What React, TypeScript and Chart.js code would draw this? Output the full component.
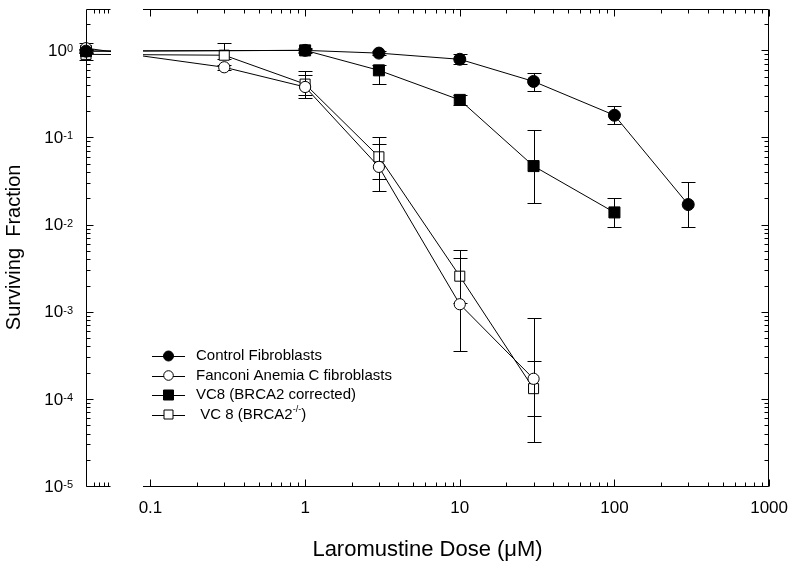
import { useEffect, useRef } from 'react';
import { Chart, registerables } from 'chart.js';

Chart.register(...registerables);

const FONT = "'Liberation Sans', Arial, Helvetica, sans-serif";

// ---- axis ranges (x axis has a break: untreated dose 0 is shown left of the break)
const X_MIN = 0.0383;
const X_MAX = 1000;
const BREAK_START = 0.055;
const BREAK_END = 0.09;
const Y_MIN = 1e-5;
const Y_MAX = 3;

// ---- tick labels
const xMajorTicks = [0.1, 1, 10, 100, 1000];
const xTickLabels = ['0.1', '1', '10', '100', '1000'];
const xMinorTicks = [
  0.2, 0.3, 0.4, 0.5, 0.6, 0.7, 0.8, 0.9,
  2, 3, 4, 5, 6, 7, 8, 9,
  20, 30, 40, 50, 60, 70, 80, 90,
  200, 300, 400, 500, 600, 700, 800, 900,
];
const xBreakPanelTicks = [0.0434, 0.0467, 0.0504, 0.0534];
const yMajorTicks = [1e-5, 1e-4, 1e-3, 1e-2, 1e-1, 1];
const yTickExponents = ['-5', '-4', '-3', '-2', '-1', '0'];
const yMinorMultipliers = [2, 3, 4, 5, 6, 7, 8, 9];

// ---- data (dose in µM; 0 = untreated)
const controlDoses = [0, 1, 3, 10, 30, 100, 300];
const controlSF = [0.98, 1.0, 0.93, 0.79, 0.44, 0.18, 0.017];
const controlLow = [0.93, 0.95, 0.88, 0.69, 0.34, 0.143, 0.0093];
const controlHigh = [1.03, 1.05, 0.98, 0.9, 0.55, 0.23, 0.031];

const fanconiDoses = [0, 0.3, 1, 3, 10, 30];
const fanconiSF = [1.06, 0.64, 0.38, 0.046, 0.00122, 0.00017];
const fanconiLow = [0.95, 0.6, 0.306, 0.024, 0.00035, 0.000063];
const fanconiHigh = [1.23, 0.68, 0.52, 0.0845, 0.0041, 0.00027];

const vc8CorrDoses = [0, 1, 3, 10, 30, 100];
const vc8CorrSF = [0.98, 1.0, 0.59, 0.27, 0.047, 0.0138];
const vc8CorrLow = [0.93, 0.94, 0.41, 0.235, 0.0178, 0.0093];
const vc8CorrHigh = [1.03, 1.06, 0.68, 0.306, 0.122, 0.0204];

const vc8KoDoses = [0, 0.3, 1, 3, 10, 30];
const vc8KoSF = [0.9, 0.88, 0.41, 0.06, 0.00256, 0.000131];
const vc8KoLow = [0.77, 0.8, 0.283, 0.0337, 0.00126, 0.0000317];
const vc8KoHigh = [1.0, 1.2, 0.575, 0.102, 0.0051, 0.00085];

type Series = {
  label: string;
  doses: number[];
  sf: number[];
  low: number[];
  high: number[];
  style: 'circle' | 'rect';
  filled: boolean;
  radius: number;
};

const SERIES: Series[] = [
  { label: 'Control Fibroblasts', doses: controlDoses, sf: controlSF, low: controlLow, high: controlHigh, style: 'circle', filled: true, radius: 6 },
  { label: 'Fanconi Anemia C fibroblasts', doses: fanconiDoses, sf: fanconiSF, low: fanconiLow, high: fanconiHigh, style: 'circle', filled: false, radius: 5.6 },
  { label: 'VC8 (BRCA2 corrected)', doses: vc8CorrDoses, sf: vc8CorrSF, low: vc8CorrLow, high: vc8CorrHigh, style: 'rect', filled: true, radius: 7.8 },
  { label: 'VC 8 (BRCA2', doses: vc8KoDoses, sf: vc8KoSF, low: vc8KoLow, high: vc8KoHigh, style: 'rect', filled: false, radius: 7.1 },
];

const doseToX = (d: number) => (d === 0 ? X_MIN : d);

const X_TICKS = [...xBreakPanelTicks, ...xMajorTicks, ...xMinorTicks].sort((a, b) => a - b);
const Y_TICKS: number[] = [...yMajorTicks];
yMajorTicks.slice(0, -1).forEach((dec) => yMinorMultipliers.forEach((m) => Y_TICKS.push(m * dec)));
Y_TICKS.push(2);
Y_TICKS.sort((a, b) => a - b);

const isDecade = (v: number) => Math.abs(Math.log10(v) - Math.round(Math.log10(v))) < 1e-6;

const decor = {
  id: 'decor',
  beforeDatasetDraw(chart: any, args: any) {
    const s = SERIES[args.index];
    const { ctx } = chart;
    const xs = chart.scales.x;
    const ys = chart.scales.y;
    ctx.save();
    ctx.strokeStyle = '#000';
    ctx.lineWidth = 1;
    s.doses.forEach((d, j) => {
      const px = Math.round(xs.getPixelForValue(doseToX(d))) + 0.5;
      const yh = Math.round(ys.getPixelForValue(s.high[j])) + 0.5;
      const yl = Math.round(ys.getPixelForValue(s.low[j])) + 0.5;
      ctx.beginPath();
      ctx.moveTo(px, yh);
      ctx.lineTo(px, yl);
      ctx.moveTo(px - 7, yh);
      ctx.lineTo(px + 7, yh);
      ctx.moveTo(px - 7, yl);
      ctx.lineTo(px + 7, yl);
      ctx.stroke();
    });
    ctx.restore();
  },
  afterDatasetsDraw(chart: any) {
    const { ctx, chartArea } = chart;
    const xs = chart.scales.x;
    const ys = chart.scales.y;
    const { left, right, top, bottom } = chartArea;
    const gs = Math.round(xs.getPixelForValue(BREAK_START));
    const ge = Math.round(xs.getPixelForValue(BREAK_END));
    ctx.save();
    // blank the axis break
    ctx.fillStyle = '#fff';
    ctx.fillRect(gs + 1, 0, ge - gs - 1, bottom + 2);
    // frame
    ctx.strokeStyle = '#000';
    ctx.lineWidth = 1;
    const L = Math.round(left) + 0.5;
    const R = Math.round(right) - 0.5;
    const T = Math.round(top) + 0.5;
    const B = Math.round(bottom) + 0.5;
    ctx.beginPath();
    ctx.moveTo(L, T);
    ctx.lineTo(L, B);
    ctx.moveTo(L, T);
    ctx.lineTo(gs + 0.5, T);
    ctx.moveTo(L, B);
    ctx.lineTo(gs + 0.5, B);
    ctx.moveTo(ge, T);
    ctx.lineTo(R, T);
    ctx.lineTo(R, B);
    ctx.moveTo(ge, B);
    ctx.lineTo(R, B);
    // x ticks (inward)
    xs.ticks.forEach((t: any) => {
      const px = Math.round(xs.getPixelForValue(t.value)) + 0.5;
      const len = isDecade(t.value) ? 7 : 4;
      ctx.moveTo(px, B);
      ctx.lineTo(px, B - len);
      ctx.moveTo(px, T);
      ctx.lineTo(px, T + len);
    });
    // y ticks (inward)
    ys.ticks.forEach((t: any) => {
      const py = Math.round(ys.getPixelForValue(t.value)) + 0.5;
      const len = isDecade(t.value) ? 7 : 4;
      ctx.moveTo(L, py);
      ctx.lineTo(L + len, py);
      ctx.moveTo(R, py);
      ctx.lineTo(R - len, py);
    });
    ctx.stroke();

    // y tick labels with superscript exponents
    ctx.fillStyle = '#000';
    ctx.textAlign = 'left';
    yMajorTicks.forEach((v, k) => {
      const py = ys.getPixelForValue(v);
      const exp = yTickExponents[k];
      ctx.font = `17px ${FONT}`;
      const w1 = ctx.measureText('10').width;
      ctx.font = `11px ${FONT}`;
      const w2 = ctx.measureText(exp).width;
      const x0 = 73 - w1 - w2;
      ctx.font = `17px ${FONT}`;
      ctx.textBaseline = 'middle';
      ctx.fillText('10', x0, py + 1);
      ctx.font = `11px ${FONT}`;
      ctx.textBaseline = 'alphabetic';
      ctx.fillText(exp, x0 + w1, py + 2);
    });

    // legend
    const rowY = [356, 375.5, 395, 414.5];
    const lineX0 = 152;
    const lineX1 = 185;
    const markX = 168.5;
    SERIES.forEach((s, i) => {
      const y = rowY[i];
      ctx.strokeStyle = '#000';
      ctx.lineWidth = 1;
      ctx.beginPath();
      ctx.moveTo(lineX0, Math.round(y) + 0.5);
      ctx.lineTo(lineX1, Math.round(y) + 0.5);
      ctx.stroke();
      ctx.fillStyle = s.filled ? '#000' : '#fff';
      ctx.beginPath();
      if (s.style === 'circle') {
        ctx.arc(markX, y, s.filled ? 5 : 4.8, 0, Math.PI * 2);
      } else {
        const h = s.filled ? 5 : 4.5;
        ctx.rect(markX - h, y - h, 2 * h, 2 * h);
      }
      ctx.fill();
      ctx.stroke();
      ctx.fillStyle = '#000';
      ctx.font = `15px ${FONT}`;
      ctx.textBaseline = 'middle';
      ctx.textAlign = 'left';
      if (i === 3) {
        const txt = ' ' + s.label;
        ctx.fillText(txt, 196, y);
        let x = 196 + ctx.measureText(txt).width;
        ctx.font = `9px ${FONT}`;
        ctx.fillText('-/-', x, y - 5);
        x += ctx.measureText('-/-').width;
        ctx.font = `15px ${FONT}`;
        ctx.fillText(')', x, y);
      } else {
        ctx.fillText(s.label, 196, y);
      }
    });
    ctx.restore();
  },
};

export default function App() {
  const ref = useRef<HTMLCanvasElement>(null);
  useEffect(() => {
    const canvas = ref.current;
    if (!canvas) return;
    const chart = new Chart(canvas, {
      type: 'line',
      data: {
        datasets: SERIES.map((s) => ({
          label: s.label,
          data: s.doses.map((d, j) => ({ x: doseToX(d), y: s.sf[j] })),
          borderColor: '#000',
          borderWidth: 1,
          tension: 0,
          fill: false,
          pointStyle: s.style,
          pointRadius: s.radius,
          pointHoverRadius: s.radius,
          pointBackgroundColor: s.filled ? '#000' : '#fff',
          pointBorderColor: '#000',
          pointBorderWidth: 1,
          clip: false as any,
        })),
      },
      options: {
        responsive: false,
        animation: false,
        events: [],
        layout: { padding: { top: 5, right: 27, left: 0, bottom: 0 } },
        plugins: { legend: { display: false }, tooltip: { enabled: false } },
        scales: {
          x: {
            type: 'logarithmic',
            min: X_MIN,
            max: X_MAX,
            grid: { display: false, drawTicks: false },
            border: { display: false },
            afterBuildTicks: (sc: any) => {
              sc.ticks = X_TICKS.map((v) => ({ value: v }));
            },
            afterFit: (sc: any) => {
              sc.height = 83;
            },
            ticks: {
              autoSkip: false,
              maxRotation: 0,
              minRotation: 0,
              padding: 12,
              color: '#000',
              font: { family: FONT, size: 17 },
              callback: (v: any) => {
                const k = xMajorTicks.findIndex((m) => Math.abs(m - Number(v)) < 1e-9);
                return k >= 0 ? xTickLabels[k] : '';
              },
            },
            title: {
              display: true,
              text: 'Laromustine Dose (μM)',
              color: '#000',
              font: { family: FONT, size: 22 },
              padding: { top: 0, bottom: 6 },
            },
          },
          y: {
            type: 'logarithmic',
            min: Y_MIN,
            max: Y_MAX,
            grid: { display: false, drawTicks: false },
            border: { display: false },
            afterBuildTicks: (sc: any) => {
              sc.ticks = Y_TICKS.map((v) => ({ value: v }));
            },
            afterFit: (sc: any) => {
              sc.width = 86;
            },
            ticks: { display: false },
            title: {
              display: true,
              text: 'Surviving  Fraction',
              color: '#000',
              font: { family: FONT, size: 20 },
              padding: { top: 2, bottom: 0 },
            },
          },
        },
      } as any,
      plugins: [decor],
    });
    return () => chart.destroy();
  }, []);
  return (
    <div style={{ position: 'absolute', left: 0, top: 0, width: 800, height: 569, background: '#fff' }}>
      <canvas ref={ref} width={800} height={569} style={{ display: 'block' }} />
    </div>
  );
}
